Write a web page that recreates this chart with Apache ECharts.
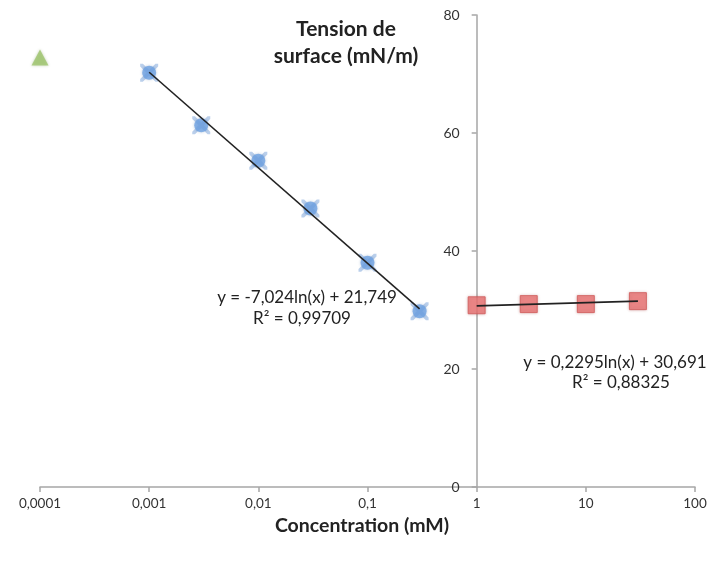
<!DOCTYPE html>
<html>
<head>
<meta charset="utf-8">
<script src="https://cdn.jsdelivr.net/npm/echarts@6/dist/echarts.min.js"></script>
<style>html,body{margin:0;padding:0;background:#fff}#c{width:714px;height:561px}</style>
</head>
<body>
<div id="c"></div>
<script>
// Data
const xTickLabels = ['0,0001', '0,001', '0,01', '0,1', '1', '10', '100'];
const yTicks = [0, 20, 40, 60, 80];
const blueX = [0.001, 0.003, 0.01, 0.03, 0.1, 0.3];
const blueY = [70.2, 61.3, 55.3, 47.2, 38.0, 29.8];
const redX = [1, 3, 10, 30];
const redY = [30.8, 31.0, 31.0, 31.5];
const greenX = [0.0001];
const greenY = [72.8];
const blueTrendX = [0.001, 0.3];
const blueTrendY = [70.3, 30.2];
const redTrendX = [1, 30];
const redTrendY = [30.7, 31.5];
const blueEq = ['y = -7,024ln(x) + 21,749', 'R² = 0,99709'];
const redEq = ['y = 0,2295ln(x) + 30,691', 'R² = 0,88325'];
const xName = 'Concentration (mM)';
const yName = ['Tension de', 'surface (mN/m)'];

const pairs = (xs, ys) => xs.map((x, i) => [x, ys[i]]);
const FONT = 'Lato, "Open Sans", sans-serif';
const W = 714, H = 561;
const gridL = 40, gridR = 19, gridT = 15, gridB = 74;
const gridW = W - gridL - gridR;
const yAxisOffset = -gridW * 4 / 6; // y axis crosses the x axis at 1

const eqStyle = {fontFamily: FONT, fontSize: 17, fill: '#222', align: 'center', verticalAlign: 'middle'};

const chart = echarts.init(document.getElementById('c'), null, {renderer: 'canvas'});
chart.setOption({
  animation: false,
  backgroundColor: '#fff',
  grid: {left: gridL, right: gridR, top: gridT, bottom: gridB},
  title: [{
    text: yName.join('\n'),
    left: 341, top: 11, textAlign: 'center',
    textStyle: {fontFamily: FONT, fontWeight: 'bold', fontSize: 21, color: '#222', lineHeight: 27}
  }, {
    text: xName,
    left: 357, top: 511, textAlign: 'center',
    textStyle: {fontFamily: FONT, fontWeight: 'bold', fontSize: 19.5, color: '#222'}
  }],
  xAxis: {
    type: 'log', logBase: 10, min: 0.0001, max: 100,
    axisLine: {lineStyle: {color: '#a6a6a6', width: 1.5}},
    axisTick: {show: true, length: 5, inside: false, lineStyle: {color: '#a6a6a6', width: 1.5}},
    minorTick: {show: false},
    splitLine: {show: false},
    axisLabel: {
      fontFamily: FONT, fontSize: 13.5, color: '#333', margin: 10,
      formatter: v => xTickLabels[Math.round(Math.log10(v)) + 4]
    }
  },
  yAxis: {
    type: 'value', min: yTicks[0], max: yTicks[yTicks.length - 1], interval: 20,
    position: 'left', offset: yAxisOffset,
    axisLine: {show: true, lineStyle: {color: '#a6a6a6', width: 1.5}},
    axisTick: {show: true, length: 5, lineStyle: {color: '#a6a6a6', width: 1.5}},
    splitLine: {show: false},
    axisLabel: {fontFamily: FONT, fontSize: 14, color: '#333', margin: 17}
  },
  series: [
    {type: 'line', data: pairs(blueTrendX, blueTrendY), symbol: 'none', lineStyle: {color: '#222', width: 1.6}, z: 3},
    {type: 'line', data: pairs(redTrendX, redTrendY), symbol: 'none', lineStyle: {color: '#222', width: 1.6}, z: 5},
    {type: 'scatter', data: pairs(blueX, blueY), symbol: 'path://M0,0 L3,0 L10,7 L17,0 L20,0 L20,3 L13,10 L20,17 L20,20 L17,20 L10,13 L3,20 L0,20 L0,17 L7,10 L0,3 Z',
      symbolSize: 18, itemStyle: {color: '#a9c3e6', opacity: 0.8}, z: 2},
    {type: 'scatter', data: pairs(blueX, blueY), symbol: 'circle', symbolSize: 14,
      itemStyle: {color: '#6fa2e2', shadowBlur: 3, shadowColor: 'rgba(60,100,160,0.4)'}, z: 2},
    {type: 'scatter', data: pairs(redX, redY), symbol: 'rect', symbolSize: 17,
      itemStyle: {color: '#eb7676', borderColor: '#cf5a59', borderWidth: 1, shadowBlur: 3, shadowColor: 'rgba(150,50,50,0.4)'}, z: 4},
    {type: 'scatter', data: pairs(greenX, greenY), symbol: 'triangle', symbolSize: [17, 16],
      itemStyle: {color: '#9dc46c', shadowBlur: 3, shadowColor: 'rgba(80,120,40,0.4)'}, z: 2}
  ],
  graphic: [
    {type: 'text', x: 307, y: 298, style: Object.assign({text: blueEq[0]}, eqStyle)},
    {type: 'text', x: 302, y: 319, style: Object.assign({text: blueEq[1]}, eqStyle)},
    {type: 'text', x: 615, y: 363, style: Object.assign({text: redEq[0]}, eqStyle)},
    {type: 'text', x: 621, y: 383, style: Object.assign({text: redEq[1]}, eqStyle)}
  ]
});
</script>
</body>
</html>
